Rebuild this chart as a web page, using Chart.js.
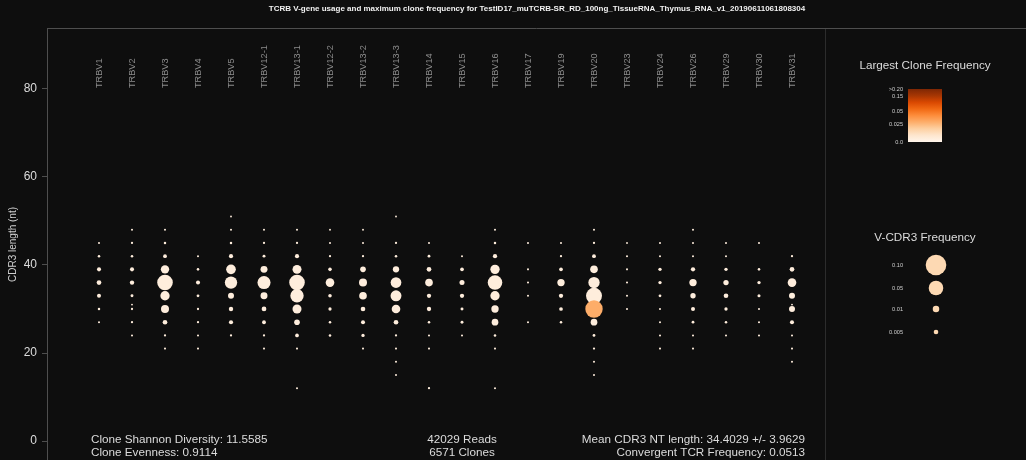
<!DOCTYPE html>
<html>
<head>
<meta charset="utf-8">
<script src="https://cdn.jsdelivr.net/npm/chart.js@4.4.1/dist/chart.umd.min.js"></script>
<style>
  html, body { margin: 0; padding: 0; background: #0e0e0e; }
  #wrap { width: 1026px; height: 460px; }
</style>
</head>
<body>
<div id="wrap"><canvas id="c" width="1026" height="460"></canvas></div>
<script>
// V genes along the x axis
const genes = ['TRBV1','TRBV2','TRBV3','TRBV4','TRBV5','TRBV12-1','TRBV13-1','TRBV12-2',
  'TRBV13-2','TRBV13-3','TRBV14','TRBV15','TRBV16','TRBV17','TRBV19','TRBV20','TRBV23',
  'TRBV24','TRBV26','TRBV29','TRBV30','TRBV31'];

// [CDR3 length (nt), V-CDR3 frequency] for each gene
const trbv1   = [[45,0.001],[42,0.0015],[39,0.0038],[36,0.0051],[33,0.0038],[30,0.0015],[27,0.001]];
const trbv2   = [[48,0.001],[45,0.0012],[42,0.0015],[39,0.0038],[36,0.0045],[33,0.002],[31,0.0008],[30,0.0012],[27,0.0012],[24,0.001]];
const trbv3   = [[48,0.001],[45,0.0015],[42,0.0034],[39,0.0165],[36,0.057],[33,0.0205],[30,0.015],[27,0.0051],[24,0.0012],[21,0.001]];
const trbv4   = [[42,0.001],[39,0.0015],[36,0.0038],[33,0.0018],[30,0.0012],[27,0.0012],[24,0.001],[21,0.001]];
const trbv5   = [[51,0.0008],[48,0.001],[45,0.0015],[42,0.004],[39,0.022],[36,0.036],[33,0.0085],[30,0.0045],[27,0.004],[24,0.0012]];
const trbv12_1 = [[48,0.001],[45,0.0012],[42,0.002],[39,0.0115],[36,0.04],[33,0.0115],[30,0.0053],[27,0.0035],[24,0.0012],[21,0.001]];
const trbv13_1 = [[48,0.001],[45,0.0012],[42,0.004],[39,0.019],[36,0.057],[33,0.042],[30,0.019],[27,0.0075],[24,0.0032],[21,0.001],[12,0.001]];
const trbv12_2 = [[48,0.0008],[45,0.001],[42,0.0012],[39,0.003],[36,0.0175],[33,0.003],[30,0.0025],[27,0.0015],[24,0.0015]];
const trbv13_2 = [[48,0.0008],[45,0.001],[42,0.0012],[39,0.0075],[36,0.015],[33,0.0138],[30,0.0051],[27,0.0038],[24,0.0026],[21,0.001]];
const trbv13_3 = [[51,0.0008],[45,0.0012],[42,0.0015],[39,0.0094],[36,0.027],[33,0.028],[30,0.0175],[27,0.0051],[24,0.0012],[21,0.001],[18,0.001],[15,0.001]];
const trbv14  = [[45,0.001],[42,0.0018],[39,0.0051],[36,0.0137],[33,0.0044],[30,0.0044],[27,0.0015],[24,0.001],[21,0.001],[12,0.0012]];
const trbv15  = [[42,0.001],[39,0.0032],[36,0.0059],[33,0.0044],[30,0.0021],[27,0.002],[24,0.001]];
const trbv16  = [[48,0.001],[45,0.0015],[42,0.0044],[39,0.0205],[36,0.05],[33,0.0205],[30,0.0127],[27,0.0105],[24,0.0015],[21,0.001],[12,0.001]];
const trbv17  = [[45,0.001],[39,0.001],[36,0.001],[33,0.001],[27,0.001]];
const trbv19  = [[45,0.001],[42,0.0012],[39,0.0032],[36,0.0127],[33,0.0044],[30,0.0032],[27,0.0015]];
const trbv20  = [[48,0.001],[45,0.0012],[42,0.0035],[39,0.0137],[36,0.03],[33,0.06],[30,0.071],[27,0.0105],[24,0.0018],[21,0.0012],[18,0.001],[15,0.001]];
const trbv23  = [[45,0.0008],[42,0.001],[39,0.001],[36,0.001],[33,0.001],[30,0.001]];
const trbv24  = [[45,0.001],[42,0.001],[39,0.0026],[36,0.0026],[33,0.0018],[30,0.001],[27,0.001],[24,0.001],[21,0.001]];
const trbv26  = [[48,0.001],[45,0.001],[42,0.001],[39,0.0044],[36,0.0127],[33,0.0067],[30,0.0038],[27,0.0018],[24,0.001],[21,0.001]];
const trbv29  = [[45,0.001],[42,0.001],[39,0.0026],[36,0.0067],[33,0.0051],[30,0.0026],[27,0.0015],[24,0.001]];
const trbv30  = [[45,0.001],[39,0.0015],[36,0.0026],[33,0.0022],[30,0.001],[27,0.001],[24,0.001]];
const trbv31  = [[42,0.0012],[39,0.0051],[36,0.0175],[33,0.0085],[31,0.0008],[30,0.0085],[27,0.0038],[24,0.001],[21,0.001],[18,0.001]];

const geneSeries = [trbv1, trbv2, trbv3, trbv4, trbv5, trbv12_1, trbv13_1, trbv12_2, trbv13_2,
  trbv13_3, trbv14, trbv15, trbv16, trbv17, trbv19, trbv20, trbv23, trbv24, trbv26, trbv29,
  trbv30, trbv31];

// largest single-clone frequency within a V-CDR3 group
const baseLargestClone = 0.005;
const largestCloneOverrides = [['TRBV20', 30, 0.03]];

// y axis ticks
const yTicks = [0, 20, 40, 60, 80];

// colour bar ticks and their fraction along the bar
const colorTickLabels = ['0.0', '0.025', '0.05', '0.15', '>0.20'];
const colorTickValues = [0, 0.025, 0.05, 0.15, 0.20];
const colorTickFrac = [0, 0.33, 0.58, 0.85, 1];

// size legend
const sizeLegendLabels = ['0.10', '0.05', '0.01', '0.005'];
const sizeLegendValues = [0.10, 0.05, 0.01, 0.005];

// summary statistics
const statsLeft = ['Clone Shannon Diversity: 11.5585', 'Clone Evenness: 0.9114'];
const statsMid = ['42029 Reads', '6571 Clones'];
const statsRight = ['Mean CDR3 NT length: 34.4029 +/- 3.9629', 'Convergent TCR Frequency: 0.0513'];
const chartTitle = 'TCRB V-gene usage and maximum clone frequency for TestID17_muTCRB-SR_RD_100ng_TissueRNA_Thymus_RNA_v1_20190611061808304';

// Oranges colormap
const oranges = ['#fff5eb','#fee6ce','#fdd0a2','#fdae6b','#fd8d3c','#f16913','#d94801','#a63603','#7f2704'];

function hexRgb(h) {
  return [parseInt(h.slice(1,3),16), parseInt(h.slice(3,5),16), parseInt(h.slice(5,7),16)];
}
function orangeAt(t) {
  t = Math.max(0, Math.min(1, t));
  const p = t * (oranges.length - 1);
  const i = Math.min(Math.floor(p), oranges.length - 2);
  const f = p - i;
  const a = hexRgb(oranges[i]), b = hexRgb(oranges[i+1]);
  const c = a.map((v, k) => Math.round(v + (b[k] - v) * f));
  return `rgb(${c[0]},${c[1]},${c[2]})`;
}
function cloneFrac(v) {
  if (v >= colorTickValues[colorTickValues.length - 1]) return 1;
  for (let i = 0; i < colorTickValues.length - 1; i++) {
    const a = colorTickValues[i], b = colorTickValues[i+1];
    if (v <= b) return colorTickFrac[i] + (v - a) / (b - a) * (colorTickFrac[i+1] - colorTickFrac[i]);
  }
  return 1;
}
// bubble area proportional to frequency
function radiusFor(freq) { return 32.6 * Math.sqrt(freq); }

const points = [];
geneSeries.forEach((series, gi) => {
  series.forEach(([len, freq]) => {
    const ov = largestCloneOverrides.find(o => o[0] === genes[gi] && o[1] === len);
    points.push({ x: gi, y: len, r: radiusFor(freq), top: ov ? ov[2] : baseLargestClone });
  });
});

const FONT = '"Liberation Sans", Arial, sans-serif';

const decor = {
  id: 'decor',
  beforeDraw(chart) {
    const { ctx, width, height } = chart;
    ctx.save();
    ctx.fillStyle = '#0e0e0e';
    ctx.fillRect(0, 0, width, height);
    ctx.restore();
  },
  beforeDatasetsDraw(chart) {
    const { ctx, chartArea: ca, scales } = chart;
    ctx.save();
    // frame
    ctx.strokeStyle = '#4e4e4e';
    ctx.lineWidth = 1;
    ctx.beginPath();
    ctx.moveTo(ca.left, ca.top - 0.5);
    ctx.lineTo(chart.width, ca.top - 0.5);
    ctx.stroke();
    ctx.strokeStyle = '#2c2c2c';
    ctx.beginPath();
    ctx.moveTo(ca.right + 0.5, ca.top);
    ctx.lineTo(ca.right + 0.5, ca.bottom);
    ctx.stroke();
    // gene labels
    ctx.fillStyle = '#8c8c8c';
    ctx.font = '9.2px ' + FONT;
    ctx.textAlign = 'left';
    ctx.textBaseline = 'middle';
    genes.forEach((g, i) => {
      const x = scales.x.getPixelForValue(i);
      ctx.save();
      ctx.translate(x, 88);
      ctx.rotate(-Math.PI / 2);
      ctx.fillText(g, 0, 0);
      ctx.restore();
    });
    ctx.restore();
  },
  afterDraw(chart) {
    const { ctx } = chart;
    ctx.save();
    // title
    ctx.fillStyle = '#f2f2f2';
    ctx.font = 'bold 8px ' + FONT;
    ctx.textAlign = 'center';
    ctx.textBaseline = 'middle';
    ctx.fillText(chartTitle, 537, 9);

    // statistics
    ctx.fillStyle = '#dcdcdc';
    ctx.font = '11.7px ' + FONT;
    ctx.textAlign = 'left';
    ctx.fillText(statsLeft[0], 91, 440);
    ctx.fillText(statsLeft[1], 91, 453);
    ctx.textAlign = 'center';
    ctx.fillText(statsMid[0], 462, 440);
    ctx.fillText(statsMid[1], 462, 453);
    ctx.textAlign = 'right';
    ctx.fillText(statsRight[0], 805, 440);
    ctx.fillText(statsRight[1], 805, 453);

    // colour legend
    ctx.textAlign = 'center';
    ctx.fillText('Largest Clone Frequency', 925, 66);
    const bx = 908, by = 89, bw = 34, bh = 53;
    const grad = ctx.createLinearGradient(0, by + bh, 0, by);
    oranges.forEach((c, i) => grad.addColorStop(i / (oranges.length - 1), c));
    ctx.fillStyle = grad;
    ctx.fillRect(bx, by, bw, bh);
    ctx.fillStyle = '#cfcfcf';
    ctx.font = '5.6px ' + FONT;
    ctx.textAlign = 'right';
    colorTickLabels.forEach((lab, i) => {
      ctx.fillText(lab, 903, by + bh - colorTickFrac[i] * bh);
    });

    // size legend
    ctx.fillStyle = '#dcdcdc';
    ctx.font = '11.7px ' + FONT;
    ctx.textAlign = 'center';
    ctx.fillText('V-CDR3 Frequency', 925, 238);
    const ly = [265, 288, 309, 332];
    sizeLegendValues.forEach((v, i) => {
      ctx.fillStyle = '#fdd9b3';
      ctx.beginPath();
      ctx.arc(936, ly[i], radiusFor(v), 0, Math.PI * 2);
      ctx.fill();
      ctx.fillStyle = '#cfcfcf';
      ctx.font = '5.6px ' + FONT;
      ctx.textAlign = 'right';
      ctx.fillText(sizeLegendLabels[i], 903, ly[i]);
    });
    ctx.restore();
  }
};

new Chart(document.getElementById('c'), {
  type: 'bubble',
  data: {
    datasets: [{
      data: points,
      backgroundColor: (c) => c.raw ? orangeAt(cloneFrac(c.raw.top)) : '#fff',
      borderWidth: 0,
      hoverRadius: 0
    }]
  },
  options: {
    responsive: false,
    animation: false,
    events: [],
    layout: { autoPadding: false, padding: { top: 29, right: 201, left: 0, bottom: 0 } },
    plugins: { legend: { display: false }, tooltip: { enabled: false } },
    scales: {
      x: { type: 'linear', min: -1.576, max: 22, display: false },
      y: {
        type: 'linear', min: -4.3, max: 93.6,
        afterBuildTicks: (s) => { s.ticks = yTicks.map(v => ({ value: v })); },
        afterFit: (s) => { s.width = 47; s.paddingTop = 0; s.paddingBottom = 0; },
        ticks: { color: '#dcdcdc', font: { family: FONT, size: 12 }, padding: 5 },
        grid: { drawOnChartArea: false, drawTicks: true, tickLength: 5, color: '#4e4e4e' },
        border: { display: true, color: '#4e4e4e' },
        title: { display: true, text: 'CDR3 length (nt)', color: '#cfcfcf',
                 font: { family: FONT, size: 10 }, padding: { top: 7, bottom: 0 } }
      }
    }
  },
  plugins: [decor]
});
</script>
</body>
</html>
